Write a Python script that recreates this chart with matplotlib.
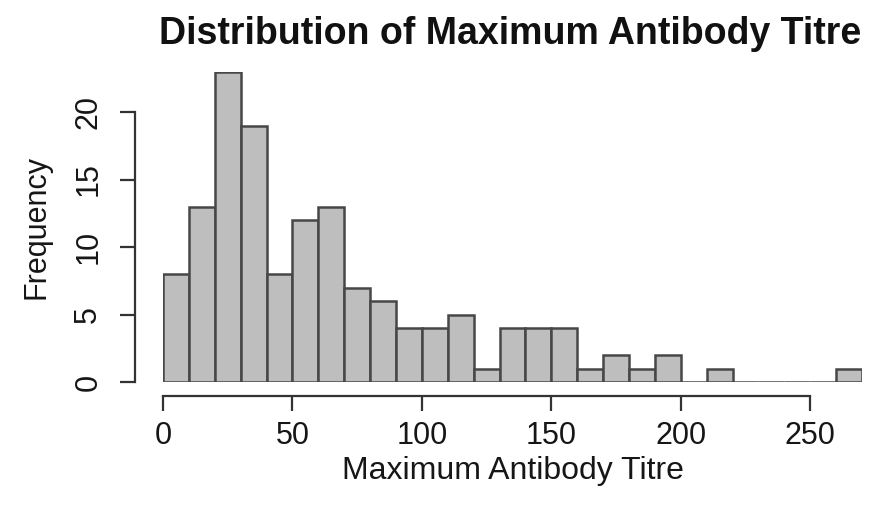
import numpy as np
import matplotlib
matplotlib.use("Agg")
import matplotlib.pyplot as plt

plt.rcParams['font.family'] = ['Liberation Sans', 'DejaVu Sans']

# histogram of maximum antibody titre, bins of width 10
bin_edges = np.arange(0, 280, 10)
counts = [8, 13, 23, 19, 8, 12, 13, 7, 6, 4, 4, 5, 1, 4, 4, 4, 1, 2, 1, 2,
          0, 1, 0, 0, 0, 0, 1]
x_ticks = [0, 50, 100, 150, 200, 250]
y_ticks = [0, 5, 10, 15, 20]

fig = plt.figure(figsize=(8.74, 5.07), dpi=100)
ax = fig.add_axes([0.1865, 0.2465, 0.7998, 0.6124])

ax.bar(bin_edges[:-1], counts, width=10, align='edge',
       facecolor='#bebebe', edgecolor='#474747', linewidth=1.8)

ax.set_xlim(0, 270)
ax.set_ylim(0, 23)

# base-R style detached axes
for side in ['top', 'right']:
    ax.spines[side].set_visible(False)
ax.spines['left'].set_position(('outward', 20))
ax.spines['bottom'].set_position(('outward', 10))
ax.spines['left'].set_bounds(0, 20)
ax.spines['bottom'].set_bounds(0, 250)
for side in ['left', 'bottom']:
    ax.spines[side].set_linewidth(1.6)
    ax.spines[side].set_color('#333333')

ax.set_xticks(x_ticks)
ax.set_yticks(y_ticks)
ax.tick_params(axis='both', length=11, width=1.6, color='#333333',
               labelsize=22, labelcolor='#161616')
ax.tick_params(axis='x', pad=7)
ax.tick_params(axis='y', pad=12)
for lab in ax.get_yticklabels():
    lab.set_rotation(90)
    lab.set_va('center')

ax.set_xlabel('Maximum Antibody Titre', fontsize=23, color='#161616', labelpad=4)
ax.set_ylabel('Frequency', fontsize=22, color='#161616', labelpad=16)
fig.text(0.584, 0.932, 'Distribution of Maximum Antibody Titre',
         ha='center', va='center', fontsize=27, fontweight='bold', color='#111111')

fig.savefig('out.png', dpi=100)
